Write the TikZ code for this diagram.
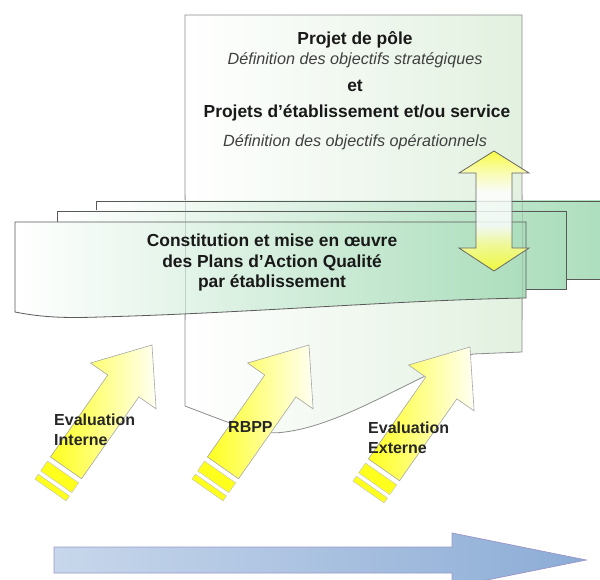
\documentclass[tikz,border=0pt]{standalone}
\usepackage{fontspec}
\setmainfont{Liberation Sans}
\usetikzlibrary{positioning}
\definecolor{vertplan}{RGB}{172,222,188}
\definecolor{vertpale}{RGB}{226,241,224}
\definecolor{jaune}{RGB}{255,255,30}
\definecolor{bleuclair}{RGB}{200,215,235}
\definecolor{bleufonce}{RGB}{140,172,214}
\pgfdeclareverticalshading{jaunedouble}{100bp}{color(0bp)=(jaune); color(25bp)=(jaune);
  color(36bp)=(yellow!45); color(44bp)=(white); color(58bp)=(white);
  color(66bp)=(yellow!35); color(75bp)=(jaune); color(100bp)=(jaune)}
\tikzset{
  titre/.style={font=\bfseries\fontsize{17.4}{20.5}\selectfont, inner sep=0pt, text=black!90},
  soustitre/.style={font=\itshape\fontsize{16.2}{19}\selectfont, inner sep=0pt, text=black!75},
  etiquette/.style={font=\bfseries\fontsize{16}{20}\selectfont, inner sep=0pt, align=left, anchor=west, text=black!85},
  polebox/.style={draw=black!45, line width=0.8pt, left color=white, right color=vertpale},
  planbox/.style={draw=black!65, line width=0.8pt, left color=white, middle color=white!75!vertplan, right color=vertplan},
  flechejaune/.style={draw=black!35, line width=0.6pt, left color=jaune, middle color=yellow!30, right color=white!96!yellow},
  bande/.style={draw=black!25, line width=0.4pt, fill=jaune},
  doublefleche/.style={draw=black!60, line width=0.8pt, shading=jaunedouble, fill opacity=0.8},
  flechebleue/.style={draw=black!55!blue!40, line width=0.8pt, left color=bleuclair, right color=bleufonce}
}
\begin{document}
\begin{tikzpicture}[x=1pt, y=-1pt]
\useasboundingbox (0,0) rectangle (600,580);
\clip (0,0) rectangle (600,580);
% projet de pole
\path[polebox] (185,15) -- (522,15) -- (522,352) -- (473,354)
  .. controls (400,385) and (340,425) .. (285,432)
  .. controls (260,436) and (235,425) .. (185,406) -- cycle;
\node[titre] (pole) at (355,40) {Projet de pôle};
\node[soustitre] (poledef) at (355,60) {Définition des objectifs stratégiques};
\node[titre] (et) at (355,86) {et};
\node[titre] (etab) at (357,113) {Projets d'établissement et/ou service};
\node[soustitre] (etabdef) at (355,142) {Définition des objectifs opérationnels};
% plans d'action
\path[planbox] (96,201) rectangle (610,279);
\path[planbox] (57,211) rectangle (566,289);
\path[planbox] (15,222) -- (526,222) -- (526,298)
  .. controls (400,300) and (250,313) .. (100,317)
  .. controls (70,318) and (45,318) .. (15,312) -- cycle;
\draw[black!45, line width=0.8pt, draw opacity=0.35] (185,195) -- (185,320) (522,195) -- (522,320);
\node[titre, align=center] (plans) at (272,263) {Constitution et mise en œuvre\\des Plans d'Action Qualité\\par établissement};
\path[doublefleche] (494,151) -- (529,173) -- (512,173) -- (512,248) -- (529,248)
  -- (494,271) -- (459,248) -- (476,248) -- (476,173) -- (459,173) -- cycle;
% evaluations
\foreach \px/\py in {152/345, 309/345, 470/347} {
  \begin{scope}[shift={(\px,\py)}, rotate=55]
    \path[flechejaune] (0,0) -- (-50,40) -- (-50,19) -- (-150,19) -- (-150,-19)
      -- (-50,-19) -- (-50,-40) -- cycle;
    \path[bande] (-155,-19) rectangle (-167,19);
    \path[bande] (-171,-19) rectangle (-177,19);
  \end{scope}
}
\node[etiquette] (interne) at (54,430) {Evaluation\\Interne};
\node[etiquette] (rbpp) at (228,427) {RBPP};
\node[etiquette] (externe) at (368,437.5) {Evaluation\\Externe};
% temps
\path[flechebleue] (54,547) -- (452,547) -- (452,533) -- (586,560) -- (452,587)
  -- (452,573) -- (54,573) -- cycle;
\end{tikzpicture}
\end{document}
